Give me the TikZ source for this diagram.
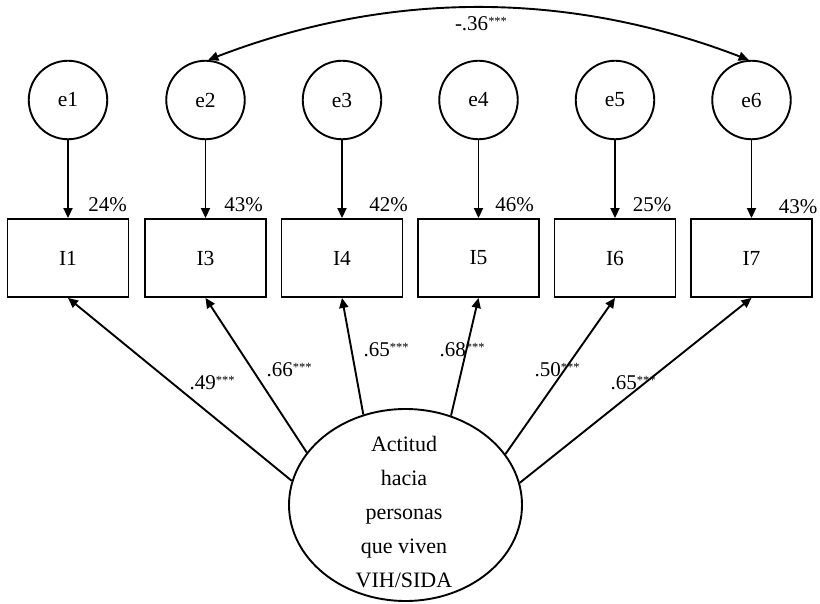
\documentclass[tikz,border=0pt]{standalone}
\usepackage{fontspec}
\setmainfont{Liberation Serif}
\usetikzlibrary{arrows.meta,shapes.geometric}
\newcommand\sigstars{\raisebox{5.5pt}{\fontsize{12.5}{12.5}\selectfont ***}}
\begin{document}
\begin{tikzpicture}[x=1pt,y=1pt,
  err/.style={circle,draw,line width=1.9pt,minimum size=78.5pt,inner sep=0pt,font=\fontsize{21.5}{24}\selectfont},
  obs/.style={rectangle,draw,line width=1.9pt,minimum width=121pt,minimum height=78pt,inner sep=0pt,font=\fontsize{21.5}{24}\selectfont},
  lat/.style={ellipse,draw,line width=1.9pt,minimum width=233pt,minimum height=192pt,inner sep=0pt},
  lbl/.style={inner sep=0pt,font=\fontsize{21}{24}\selectfont},
  conn/.style={line width=1.9pt,-{Triangle[length=10pt,width=9pt]}},
  cov/.style={line width=1.9pt,{Triangle[length=10pt,width=9pt]}-{Triangle[length=10pt,width=9pt]}},
]
\useasboundingbox (0,0) rectangle (820,603);
% error terms
\node[err] (e1) at (68,503) {e1};
\node[err] (e2) at (205.5,503) {e2};
\node[err] (e3) at (342,503) {e3};
\node[err] (e4) at (478.5,503) {e4};
\node[err] (e5) at (615,503) {e5};
\node[err] (e6) at (751.5,503) {e6};
% indicators
\node[obs] (I1) at (68,345) {I1};
\node[obs] (I3) at (205.5,345) {I3};
\node[obs] (I4) at (342,345) {I4};
\node[obs] (I5) at (478.5,345) {I5};
\node[obs] (I6) at (615,345) {I6};
\node[obs] (I7) at (751.5,345) {I7};
% latent factor
\node[lat] (F) at (405.5,98) {};
\node[inner sep=0pt,align=center,font=\fontsize{22}{34}\selectfont] (Ft) at (404,91) {Actitud\\hacia\\personas\\que viven\\VIH/SIDA};
% error arrows
\foreach \e/\i in {e1/I1,e2/I3,e3/I4,e4/I5,e5/I6,e6/I7}
  \draw[conn] (\e.south) -- (\i.north);
% loadings
\draw[conn] (F.168.5) -- (I1.south);
\draw[conn] (F.152) -- (I3.south);
\draw[conn] (F.115.5) -- (I4.south);
\draw[conn] (F.63.5) -- (I5.south);
\draw[conn] (F.27) -- (I6.south);
\draw[conn] (F.11) -- (I7.south);
% covariance
\draw[cov] (e2.86) to[out=21,in=159,looseness=0.92] (e6.94);
\node[lbl] (c26) at (481,579) {-.36\sigstars};
% R2 labels
\node[lbl] (r1) at (107.5,398) {24\%};
\node[lbl] (r3) at (243.5,398) {43\%};
\node[lbl] (r4) at (388.5,398) {42\%};
\node[lbl] (r5) at (514.5,398) {46\%};
\node[lbl] (r6) at (652,398) {25\%};
\node[lbl] (r7) at (798,396) {43\%};
% loading labels
\node[lbl] (l1) at (212,220) {.49\sigstars};
\node[lbl] (l3) at (289,233) {.66\sigstars};
\node[lbl] (l4) at (386,253) {.65\sigstars};
\node[lbl] (l5) at (462,253) {.68\sigstars};
\node[lbl] (l6) at (557,233) {.50\sigstars};
\node[lbl] (l7) at (633,220) {.65\sigstars};
\end{tikzpicture}
\end{document}
